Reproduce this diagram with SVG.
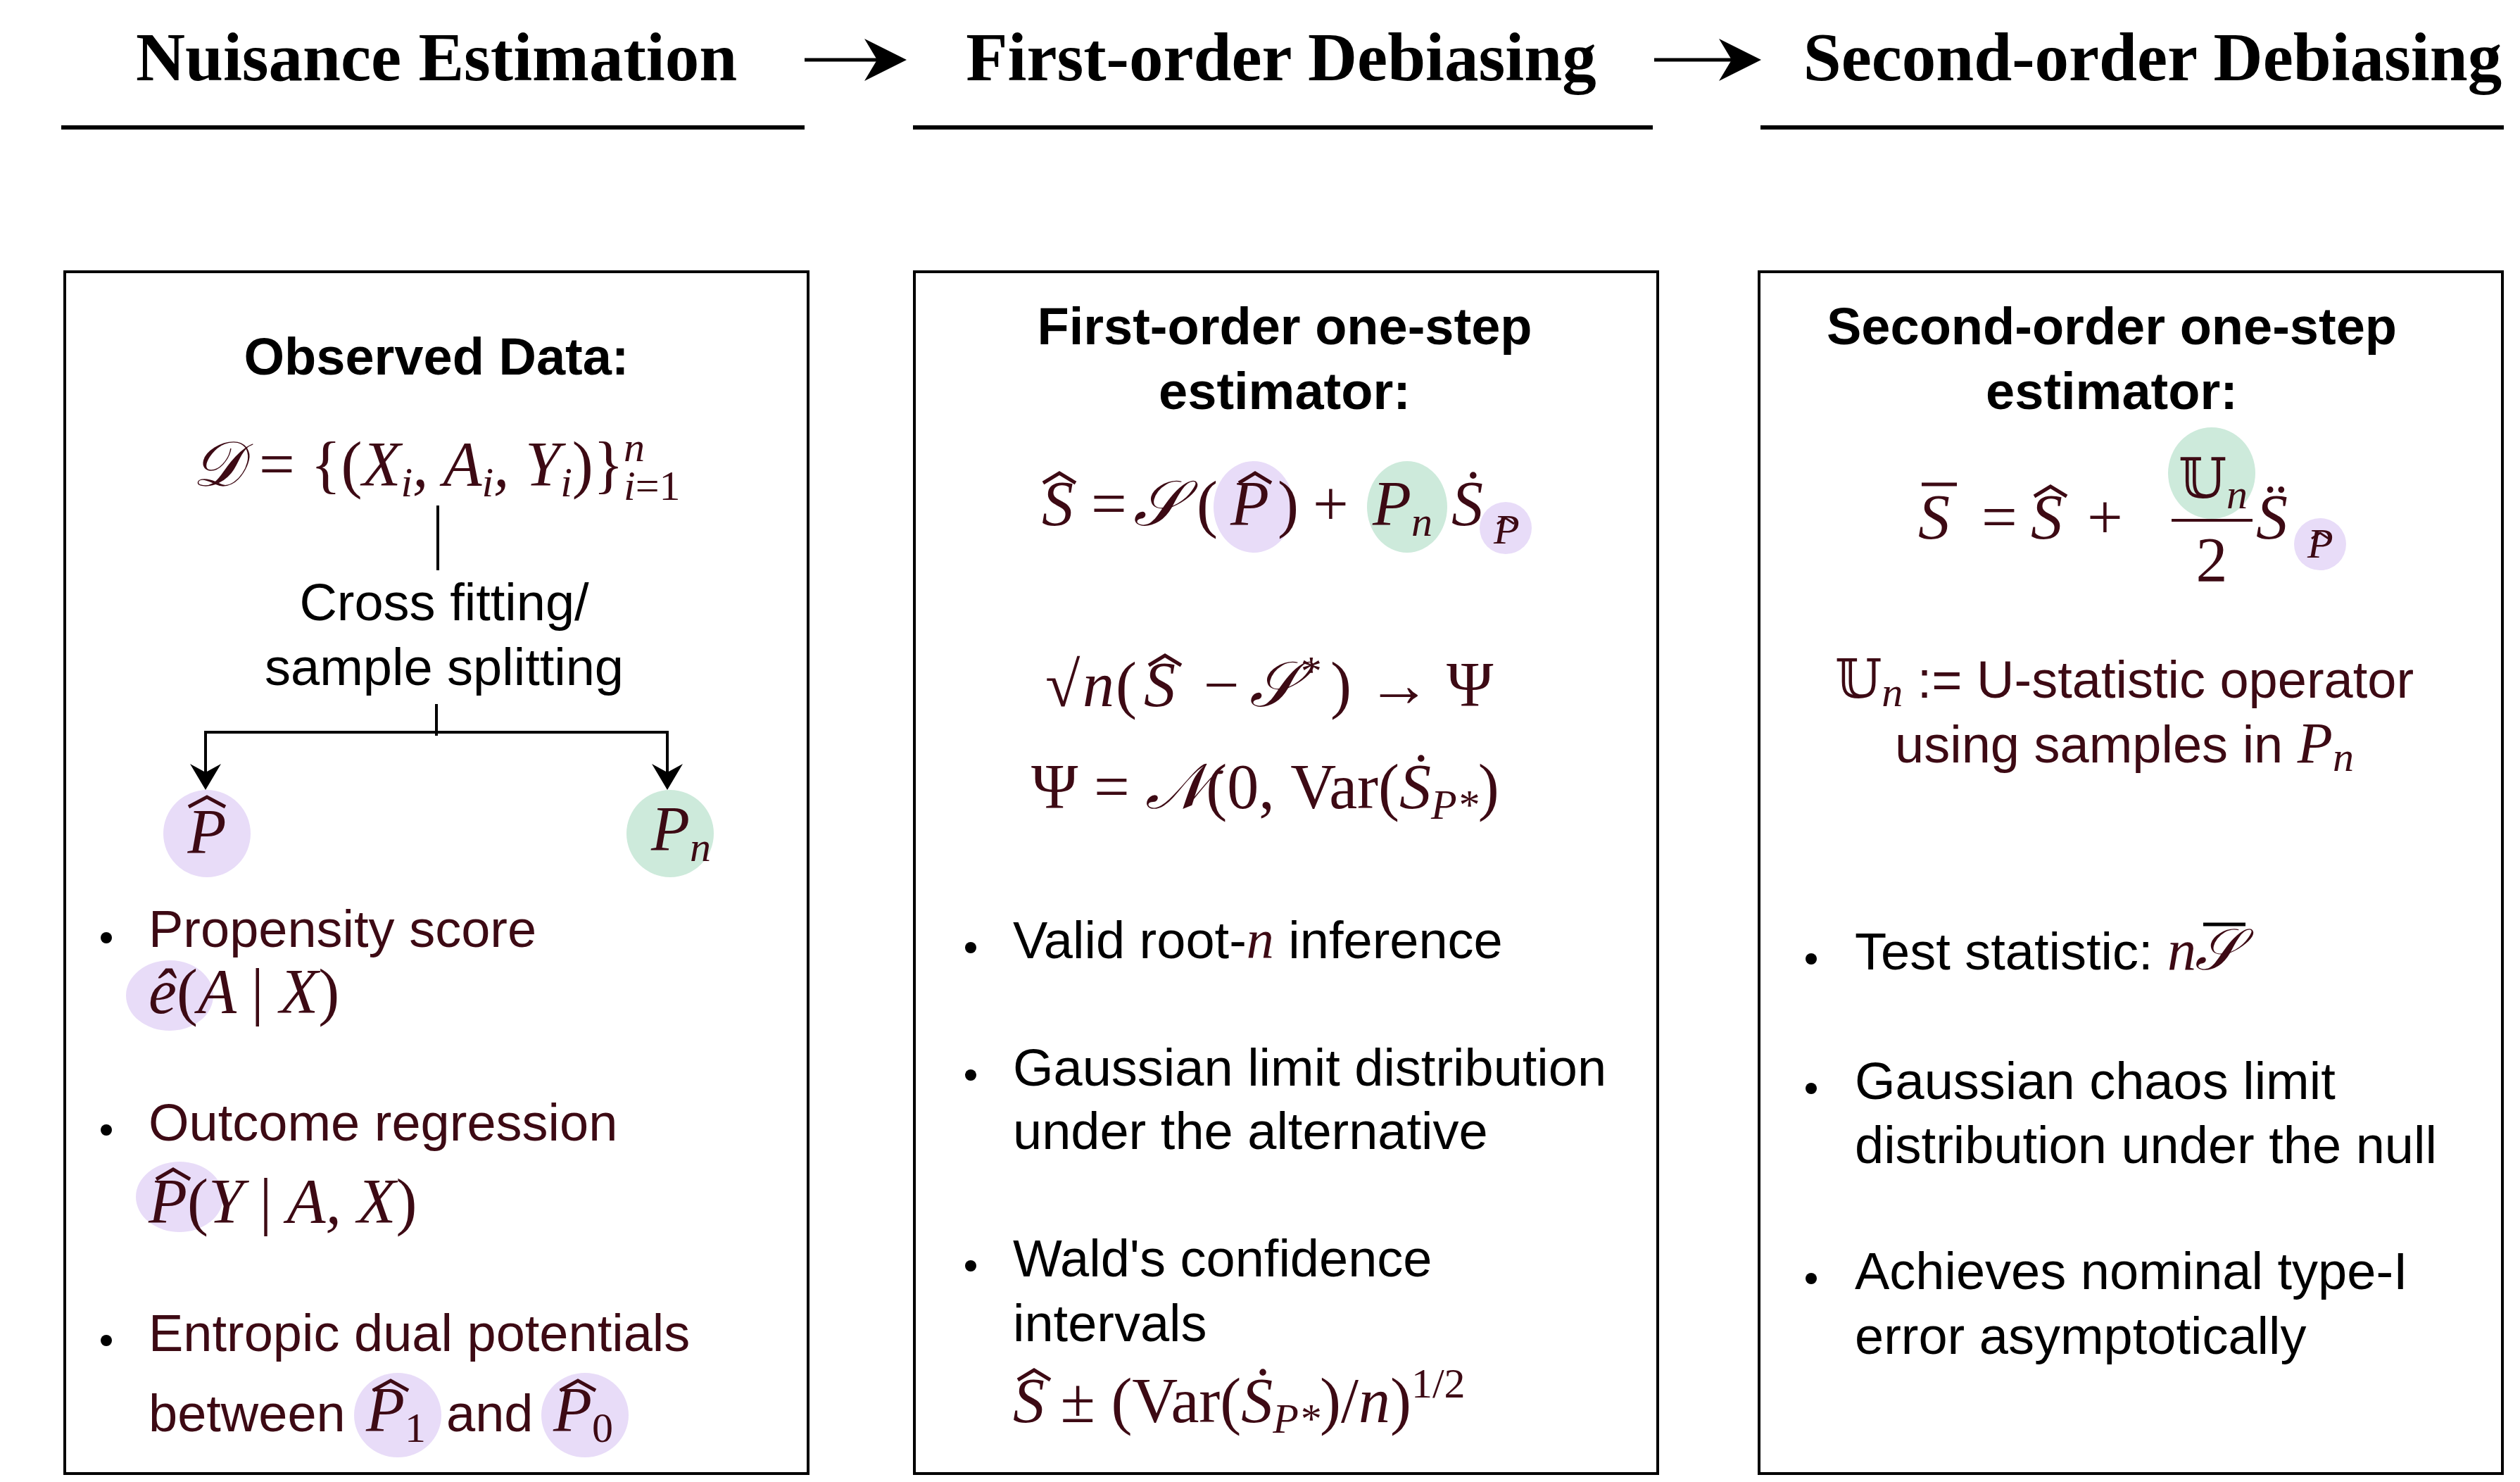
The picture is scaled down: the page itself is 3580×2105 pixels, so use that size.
<svg xmlns="http://www.w3.org/2000/svg" width="3580" height="2105" viewBox="0 0 3580 2105">
<style>
.h{font-family:"Liberation Serif",serif;font-weight:bold;font-size:97px;text-anchor:middle;fill:#000}
.t{font-family:"Liberation Sans",Arial,sans-serif;font-size:74px;fill:#3d0a14}
.k{fill:#000}
.b{font-weight:bold;fill:#000}
.m{font-family:"Liberation Serif","DejaVu Serif",serif;font-style:italic;font-size:90px;fill:#3d0a14}
.r{font-style:normal}
.s{font-size:60px}
.c{text-anchor:middle}
.box{fill:none;stroke:#000;stroke-width:4}
.ul{stroke:#000;stroke-width:6}
.pu{fill:#e8dcf8}
.gr{fill:#cdeadb}
.ln{stroke:#000;stroke-width:4;fill:none}
.hat{fill:none;stroke:#3d0a14;stroke-width:5}
</style>
<defs>
<marker id="ah2" viewBox="0 0 10 10" refX="9" refY="5" markerWidth="12" markerHeight="12" orient="auto"><path d="M0,0 L10,5 L0,10 L3,5 z" fill="#000"/></marker>
</defs>
<rect width="3580" height="2105" fill="#fff"/>
<g id="headers">
<text class="h" x="620" y="114">Nuisance Estimation</text>
<text class="h" x="1820" y="114">First-order Debiasing</text>
<text class="h" x="3058" y="114">Second-order Debiasing</text>
<line class="ul" x1="87" y1="181" x2="1143" y2="181"/>
<line class="ul" x1="1297" y1="181" x2="2348" y2="181"/>
<line class="ul" x1="2501" y1="181" x2="3557" y2="181"/>
</g>
<g id="connectors">
<line x1="1143" y1="85" x2="1282" y2="85" stroke="#000" stroke-width="5" marker-end="url(#ah2)"/>
<line x1="2350" y1="85" x2="2496" y2="85" stroke="#000" stroke-width="5" marker-end="url(#ah2)"/>
<line class="ln" x1="622" y1="718" x2="622" y2="810"/>
<line class="ln" x1="620" y1="1000" x2="620" y2="1045"/>
<path class="ln" d="M948,1105 V1040 H292 V1105"/>
<path d="M270,1085 L292,1122 L314,1085 L292,1097z M926,1085 L948,1122 L970,1085 L948,1097z" fill="#000"/>
</g>
<g id="box1">
<rect class="box" x="92" y="386" width="1056" height="1707"/>
<text class="t b c" x="620" y="532">Observed Data:</text>
<text class="m k" x="620" y="690" text-anchor="middle">𝒟 <tspan class="r">= {(</tspan>X<tspan class="s" dy="15">i</tspan><tspan dy="-15">, A</tspan><tspan class="s" dy="15">i</tspan><tspan dy="-15">, Y</tspan><tspan class="s" dy="15">i</tspan><tspan class="r" dy="-15">)}</tspan><tspan class="s" dy="-35">n</tspan><tspan class="s" dx="-30" dy="55">i<tspan class="r">=1</tspan></tspan></text>
<text class="t k c" x="631" y="881">Cross fitting/</text>
<text class="t k c" x="631" y="973">sample splitting</text>
<ellipse class="pu" cx="294" cy="1184" rx="62" ry="62"/>
<ellipse class="gr" cx="952" cy="1184" rx="62" ry="62"/>
<text class="m" x="294" y="1212" text-anchor="middle">P</text>
<path class="hat" d="M268,1146 L294,1132 L320,1146"/>
<text class="m" x="925" y="1208">P<tspan class="s" dy="15">n</tspan></text>
<circle cx="151" cy="1332" r="8" fill="#000"/>
<text class="t" x="211" y="1345">Propensity score</text>
<ellipse class="pu" cx="241" cy="1414" rx="62" ry="50"/>
<text class="m" x="211" y="1439">ê<tspan class="r">(</tspan>A <tspan class="r">|</tspan> X<tspan class="r">)</tspan></text>
<circle cx="151" cy="1605" r="8" fill="#000"/>
<text class="t" x="211" y="1620">Outcome regression</text>
<ellipse class="pu" cx="255" cy="1700" rx="62" ry="50"/>
<text class="m" x="211" y="1737">P<tspan class="r">(</tspan>Y <tspan class="r">|</tspan> A, X<tspan class="r">)</tspan></text>
<path class="hat" d="M222,1675 L246,1661 L270,1675"/>
<circle cx="151" cy="1904" r="8" fill="#000"/>
<text class="t" x="211" y="1919">Entropic dual potentials</text>
<ellipse class="pu" cx="565" cy="2010" rx="62" ry="60"/>
<ellipse class="pu" cx="831" cy="2010" rx="62" ry="60"/>
<text class="t" x="211" y="2033">between</text>
<text class="m" x="520" y="2033">P<tspan class="r s" dy="15">1</tspan></text>
<path class="hat" d="M530,1975 L555,1961 L580,1975"/>
<text class="t" x="634" y="2033">and</text>
<text class="m" x="786" y="2033">P<tspan class="r s" dy="15">0</tspan></text>
<path class="hat" d="M796,1975 L821,1961 L846,1975"/>
</g>
<g id="box2">
<rect class="box" x="1299" y="386" width="1056" height="1707"/>
<text class="t b c" x="1825" y="489">First-order one-step</text>
<text class="t b c" x="1825" y="581">estimator:</text>
<ellipse class="pu" cx="1781" cy="720" rx="57" ry="65"/>
<ellipse class="gr" cx="1999" cy="720" rx="57" ry="65"/>
<ellipse class="pu" cx="2139" cy="750" rx="37" ry="37"/>
<text class="m" x="1480" y="746">S</text>
<path class="hat" d="M1482,686 L1505,672 L1528,686"/>
<text class="m r" x="1550" y="746">=</text>
<text class="m" x="1610" y="746">𝒮</text>
<text class="m r" x="1700" y="746">(</text>
<text class="m" x="1748" y="746">P</text>
<path class="hat" d="M1760,686 L1783,672 L1806,686"/>
<text class="m r" x="1815" y="746">)</text>
<text class="m r" x="1865" y="746">+</text>
<text class="m" x="1950" y="746">P<tspan class="s" dy="15">n</tspan></text>
<text class="m" x="2062" y="746">Ṡ</text>
<text class="m s" x="2122" y="772">P</text>
<path d="M2127,744 L2139,736 L2151,744" fill="none" stroke="#3d0a14" stroke-width="3"/>
<text class="m r" x="1485" y="1003">√</text>
<text class="m" x="1538" y="1003">n</text>
<text class="m r" x="1585" y="1003">(</text>
<text class="m" x="1625" y="1003">S</text>
<path class="hat" d="M1632,945 L1655,931 L1678,945"/>
<text class="m r" x="1710" y="1003">−</text>
<text class="m" x="1775" y="1003">𝒮<tspan class="s" dy="-30">*</tspan></text>
<text class="m r" x="1890" y="1003">) → Ψ</text>
<text class="m" x="1465" y="1148"><tspan class="r">Ψ =</tspan> 𝒩<tspan class="r">(0, Var(</tspan>Ṡ<tspan class="s" dy="15">P*</tspan><tspan class="r" dy="-15">)</tspan></text>
<circle cx="1379" cy="1346" r="8" fill="#000"/>
<text class="t k" x="1439" y="1361">Valid root-<tspan class="m" style="font-size:78px">n</tspan> inference</text>
<circle cx="1379" cy="1527" r="8" fill="#000"/>
<text class="t k" x="1439" y="1542">Gaussian limit distribution</text>
<text class="t k" x="1439" y="1632">under the alternative</text>
<circle cx="1379" cy="1798" r="8" fill="#000"/>
<text class="t k" x="1439" y="1813">Wald's confidence</text>
<text class="t k" x="1439" y="1905">intervals</text>
<text class="m" x="1439" y="2020">S <tspan class="r">± (Var(</tspan>Ṡ<tspan class="s" dy="15">P*</tspan><tspan class="r" dy="-15">)/</tspan>n<tspan class="r">)</tspan><tspan class="r s" dy="-35">1/2</tspan></text>
<path class="hat" d="M1446,1960 L1469,1946 L1492,1960"/>
</g>
<g id="box3">
<rect class="box" x="2499" y="386" width="1056" height="1707"/>
<text class="t b c" x="3000" y="489">Second-order one-step</text>
<text class="t b c" x="3000" y="581">estimator:</text>
<ellipse class="gr" cx="3142" cy="672" rx="62" ry="65"/>
<ellipse class="pu" cx="3296" cy="773" rx="37" ry="37"/>
<text class="m" x="2725" y="765">S</text>
<line x1="2730" y1="688" x2="2780" y2="688" stroke="#3d0a14" stroke-width="5"/>
<text class="m r" x="2815" y="765">=</text>
<text class="m" x="2885" y="765">S</text>
<path class="hat" d="M2890,705 L2913,691 L2936,705"/>
<text class="m r" x="2965" y="765">+</text>
<text class="m" x="3095" y="707"><tspan class="r" style="font-family:'DejaVu Serif',serif;font-size:78px">𝕌</tspan><tspan class="s" dy="15">n</tspan></text>
<line x1="3085" y1="739" x2="3200" y2="739" stroke="#3d0a14" stroke-width="4"/>
<text class="m r" x="3142" y="826" text-anchor="middle">2</text>
<text class="m" x="3205" y="765">S̈</text>
<text class="m s" x="3278" y="792">P</text>
<path d="M3284,765 L3296,757 L3308,765" fill="none" stroke="#3d0a14" stroke-width="3"/>
<text class="t c" x="3018" y="991"><tspan style="font-family:'DejaVu Serif',serif;font-size:76px">𝕌</tspan><tspan class="m s" dy="12">n</tspan><tspan dy="-12"> := U-statistic operator</tspan></text>
<text class="t c" x="3018" y="1083">using samples in <tspan class="m" style="font-size:82px">P</tspan><tspan class="m s" dy="12">n</tspan></text>
<circle cx="2573" cy="1362" r="8" fill="#000"/>
<text class="t k" x="2635" y="1377">Test statistic: <tspan class="m k" style="font-size:82px">n</tspan></text>
<text class="m k" x="3118" y="1377" style="font-size:82px">𝒮</text>
<line x1="3130" y1="1313" x2="3190" y2="1313" stroke="#000" stroke-width="5"/>
<circle cx="2573" cy="1546" r="8" fill="#000"/>
<text class="t k" x="2635" y="1561">Gaussian chaos limit</text>
<text class="t k" x="2635" y="1652">distribution under the null</text>
<circle cx="2573" cy="1816" r="8" fill="#000"/>
<text class="t k" x="2635" y="1831">Achieves nominal type-I</text>
<text class="t k" x="2635" y="1923">error asymptotically</text>
</g>
</svg>
